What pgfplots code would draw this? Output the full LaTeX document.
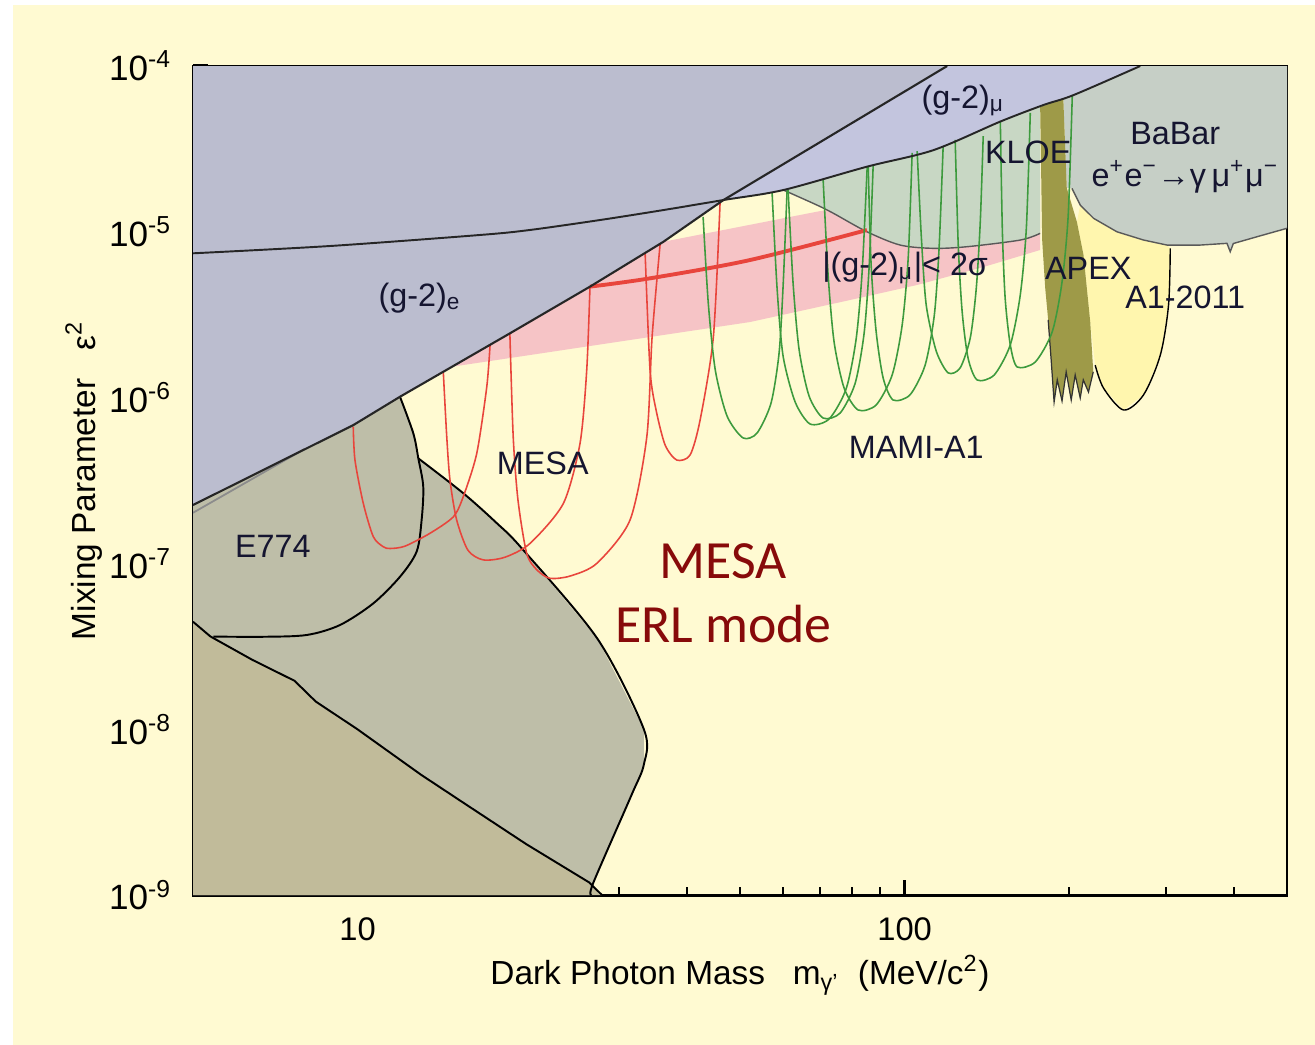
\documentclass[border=0pt]{standalone}
\usepackage{pgfplots}
\pgfplotsset{compat=1.18}
\usepackage{fontspec}
\setmainfont{Liberation Sans}
\newfontfamily\calibri{Carlito}
\definecolor{bgy}{HTML}{FFFAD2}
\definecolor{ge}{HTML}{BBBDCF}
\definecolor{gmu}{HTML}{C3C5DE}
\definecolor{kloe}{HTML}{C8D7C4}
\definecolor{babar}{HTML}{C6CFC6}
\definecolor{apex}{HTML}{9E9A48}
\definecolor{aone}{HTML}{FFF6AE}
\definecolor{esev}{HTML}{BEBEA8}
\definecolor{khaki}{HTML}{C1BB9A}
\definecolor{pinkb}{HTML}{F6C4C6}
\definecolor{mred}{HTML}{E8453C}
\definecolor{mgreen}{HTML}{3D9A3D}
\definecolor{ered}{HTML}{870A0A}
\definecolor{lab}{HTML}{151530}
\begin{document}
\begin{tikzpicture}
\fill[white] (-1.93,-1.50) rectangle (11.22,8.95);
\fill[bgy] (-1.804,-1.50) rectangle (11.22,8.90);
\begin{axis}[
 at={(0,0)}, anchor=south west, scale only axis,
 width=10.94cm, height=8.29cm,
 xmode=log, ymode=log, xmin=5, xmax=500, ymin=1e-9, ymax=1e-4,
 axis background/.style={fill=bgy},
 axis line style={line width=0.85pt},
 tick pos=left, tick align=inside,
 major tick length=0.15cm, minor tick length=0.08cm,
 major tick style={line width=0.9pt, black},
 minor tick style={line width=0.6pt, black},
 xtick={10,100}, xticklabels={10,100},
 minor xtick={6,7,8,9,20,30,40,50,60,70,80,90,200,300,400},
 ytick={1e-9,1e-8,1e-7,1e-6,1e-5,1e-4},
 yticklabels={10\textsuperscript{-9},10\textsuperscript{-8},10\textsuperscript{-7},10\textsuperscript{-6},10\textsuperscript{-5},10\textsuperscript{-4}},
 minor ytick={2e-9,3e-9,4e-9,5e-9,6e-9,7e-9,8e-9,9e-9,2e-8,3e-8,4e-8,5e-8,6e-8,7e-8,8e-8,9e-8,2e-7,3e-7,4e-7,5e-7,6e-7,7e-7,8e-7,9e-7,2e-6,3e-6,4e-6,5e-6,6e-6,7e-6,8e-6,9e-6,2e-5,3e-5,4e-5,5e-5,6e-5,7e-5,8e-5,9e-5},
 xticklabel style={font=\fontsize{9.3}{11}\selectfont, text=black, yshift=-3pt},
 yticklabel style={font=\fontsize{10}{12}\selectfont, text=black, xshift=-2.5pt},
 xlabel={Dark Photon Mass \ \ m\textsubscript{γ'}\ \ (MeV/c\textsuperscript{2})},
 ylabel={Mixing Parameter \ \ ε\textsuperscript{2}},
 label style={font=\fontsize{9.5}{11}\selectfont},
 xlabel style={at={(axis description cs:0.5,-0.0965)}, anchor=center},
 ylabel style={at={(axis description cs:-0.1,0.5)}, anchor=center},
]
% pink band |(g-2)_mu| < 2 sigma
\addplot[fill=pinkb, draw=none] coordinates {(14.88,1.536e-6) (18.98,2.44e-6) (26.59,4.67e-6) (36.23,8.71e-6) (69.1,1.322e-5) (176.9,2.294e-5) (176.9,7.77e-6) (139.2,6.13e-6) (105.4,4.78e-6) (79.5,3.88e-6) (52.17,2.857e-6) (36.19,2.385e-6) (20.66,1.807e-6)} -- cycle;
% KLOE
\addplot[fill=kloe, draw=none] coordinates {(60.02,1.787e-5) (85.3,2.47e-5) (112.9,3.11e-5) (149.5,4.62e-5) (176.9,5.71e-5) (176.9,9.79e-6) (162.7,8.92e-6) (130.0,8.13e-6) (112.9,7.95e-6) (98.13,8.32e-6) (85.3,1.001e-5) (74.1,1.293e-5) (69.1,1.451e-5)} -- cycle;
\addplot[draw=black!65, line width=0.4pt, smooth] coordinates {(60.02,1.787e-5) (69.1,1.451e-5) (74.1,1.293e-5) (85.3,1.001e-5) (98.13,8.32e-6) (112.9,7.95e-6) (130.0,8.13e-6) (162.7,8.92e-6) (176.9,9.79e-6)};
% (g-2)_mu region
\addplot[fill=gmu, draw=none] coordinates {(5,7.42e-6) (8.90,8.21e-6) (16.74,9.57e-6) (20.66,1.026e-5) (27.74,1.178e-5) (36.23,1.353e-5) (46.63,1.555e-5) (60.02,1.787e-5) (85.3,2.47e-5) (112.9,3.11e-5) (149.5,4.62e-5) (179.4,5.82e-5) (203.6,6.68e-5) (269.6,1e-4) (5,1e-4)} -- cycle;
% (g-2)_e region
\addplot[fill=ge, draw=none] coordinates {(5,2.25e-7) (9.82,6.83e-7) (11.95,1.012e-6) (18.98,2.44e-6) (26.59,4.67e-6) (36.23,8.71e-6) (46.63,1.555e-5) (119.6,1e-4) (5,1e-4)} -- cycle;
% A1-2011
\addplot[fill=aone, draw=none] coordinates {(206.5,1.146e-5) (212.3,7.25e-6) (218.4,2.86e-6) (223.0,1.57e-6) (231.0,1.14e-6) (251.3,8.42e-7) (273.4,1.04e-6) (293.4,1.81e-6) (303.7,3.62e-6) (305.9,7.95e-6) (301.7,8.32e-6) (273.4,8.92e-6) (244.4,1.0e-5) (221.5,1.206e-5) (209.4,1.451e-5)} -- cycle;
\addplot[draw=black, line width=0.4pt, smooth] coordinates {(223.0,1.57e-6) (231.0,1.14e-6) (251.3,8.42e-7) (273.4,1.04e-6) (293.4,1.81e-6) (303.7,3.62e-6) (305.9,7.95e-6)};
% BaBar
\addplot[fill=babar, draw=none] coordinates {(195.0,6.37e-5) (203.6,6.68e-5) (269.6,1e-4) (500,1e-4) (500,1.05e-5) (440.8,9.34e-6) (399,8.5e-6) (393.8,7.59e-6) (388.4,8.52e-6) (347.1,8.32e-6) (301.7,8.32e-6) (273.4,8.92e-6) (244.4,1.0e-5) (221.5,1.206e-5) (209.4,1.451e-5) (202.2,1.829e-5) (197.9,1.837e-5)} -- cycle;
\addplot[draw=black!65, line width=0.4pt] coordinates {(202.2,1.829e-5) (209.4,1.451e-5) (221.5,1.206e-5) (244.4,1.0e-5) (273.4,8.92e-6) (301.7,8.32e-6) (347.1,8.32e-6) (388.4,8.52e-6) (393.8,7.59e-6) (399,8.5e-6) (440.8,9.34e-6) (500,1.05e-5)};
% APEX
\addplot[fill=apex, draw=none] coordinates {(176.9,5.66e-5) (195.0,6.37e-5) (197.9,1.837e-5) (206.5,1.146e-5) (212.3,7.25e-6) (218.4,2.86e-6) (221.2,1.43e-6) (216.8,1.08e-6) (212.1,1.28e-6) (209.4,9.94e-7) (205.0,1.37e-6) (201.6,9.67e-7) (197.4,1.43e-6) (194.0,9.54e-7) (190.1,1.28e-6) (187.6,9.41e-7) (185.3,1.69e-6) (183.0,2.94e-6) (180.7,4.58e-6) (178.4,8.92e-6)} -- cycle;
\addplot[draw=black!80, line width=0.35pt] coordinates {(221.2,1.43e-6) (216.8,1.08e-6) (212.1,1.28e-6) (209.4,9.94e-7) (205.0,1.37e-6) (201.6,9.67e-7) (197.4,1.43e-6) (194.0,9.54e-7) (190.1,1.28e-6) (187.6,9.41e-7) (185.3,1.69e-6) (183.0,2.94e-6)};
% E774 + E141 (grey)
\addplot[fill=esev, draw=none] coordinates {(5,2.25e-7) (9.82,6.83e-7) (11.95,1.012e-6) (12.64,6.09e-7) (12.91,4.30e-7) (13.00,4.20e-7) (15.60,2.65e-7) (17.96,1.75e-7) (19.97,1.23e-7) (27.46,3.50e-8) (33.37,9.97e-9) (33.37,6.15e-9) (31.65,3.99e-9) (26.98,1.19e-9) (26.74,1e-9) (5,1e-9)} -- cycle;
% lower khaki region
\addplot[fill=khaki, draw=none] coordinates {(5,4.45e-8) (5.378,3.63e-8) (6.420,2.62e-8) (7.666,1.96e-8) (8.380,1.47e-8) (10,9.97e-9) (13.05,5.32e-9) (15.57,3.62e-9) (20.32,2.03e-9) (26.51,1.19e-9) (27.96,1e-9) (5,1e-9)} -- cycle;
% boundaries
\addplot[draw=black!45, line width=0.5pt] coordinates {(5,2.02e-7) (8.0,4.9e-7)};
\addplot[draw=black, line width=0.55pt, smooth] coordinates {(11.95,1.012e-6) (12.64,6.09e-7) (12.91,4.30e-7) (13.18,2.90e-7) (13.09,1.83e-7) (12.82,1.18e-7) (11.95,8.31e-8) (10.68,5.74e-8) (9.282,4.25e-8) (8.067,3.70e-8) (6.720,3.61e-8) (5.45,3.62e-8)};
\addplot[draw=black, line width=0.55pt, smooth] coordinates {(12.91,4.30e-7) (15.60,2.65e-7) (17.96,1.75e-7) (19.97,1.23e-7) (27.46,3.50e-8) (33.37,9.97e-9) (33.37,6.15e-9) (31.65,3.99e-9) (26.98,1.19e-9) (26.74,1e-9)};
\addplot[draw=black, line width=0.55pt] coordinates {(5,4.45e-8) (5.378,3.63e-8) (6.420,2.62e-8) (7.666,1.96e-8) (8.380,1.47e-8) (10,9.97e-9) (13.05,5.32e-9) (15.57,3.62e-9) (20.32,2.03e-9) (26.51,1.19e-9) (27.96,1e-9)};
% MESA central line
\addplot[draw=mred, line width=1.1pt, smooth] coordinates {(26.59,4.67e-6) (34.22,5.24e-6) (52.17,6.76e-6) (85.30,1.025e-5)};
% MESA reach curves
\addplot[draw=mred, line width=0.45pt, smooth, tension=0.45] coordinates {(9.816,6.68e-7) (9.887,4.20e-7) (10.24,2.30e-7) (10.68,1.45e-7) (11.14,1.26e-7) (11.46,1.23e-7) (12.20,1.27e-7) (13.56,1.52e-7) (14.96,1.91e-7) (15.60,2.53e-7) (16.51,4.61e-7) (17.22,1.16e-6) (17.46,2.08e-6)};
\addplot[draw=mred, line width=0.45pt, smooth, tension=0.45] coordinates {(14.34,1.43e-6) (14.55,5.81e-7) (14.75,3.18e-7) (15.17,1.83e-7) (15.91,1.20e-7) (16.97,1.05e-7) (18.59,1.09e-7) (20.66,1.32e-7) (23.77,2.30e-7) (25.50,5.30e-7) (26.23,1.47e-6) (26.59,4.67e-6)};
\addplot[draw=mred, line width=0.45pt, smooth, tension=0.45] coordinates {(18.98,2.44e-6) (19.25,5.81e-7) (19.64,2.41e-7) (20.37,1.15e-7) (21.28,9.12e-8) (22.47,8.13e-8) (24.45,8.39e-8) (27.36,1.00e-7) (31.48,1.83e-7) (33.78,5.81e-7) (34.54,2.33e-6) (35.73,8.48e-6)};
\addplot[draw=mred, line width=0.45pt, smooth, tension=0.45] coordinates {(33.54,7.46e-6) (34.24,1.47e-6) (35.12,8.42e-7) (36.48,5.18e-7) (38.32,4.20e-7) (40.53,4.51e-7) (42.27,7.32e-7) (44.70,2.33e-6) (45.98,1.51e-5)};
% MAMI-A1 reach curves
\addplot[draw=mgreen, line width=0.45pt, smooth, tension=0.45] coordinates {(42.81,1.23e-5) (43.75,3.72e-6) (45.06,1.467e-6) (47.35,7.74e-7) (50.66,5.71e-7) (53.74,6.12e-7) (56.99,9.28e-7) (58.95,1.86e-6) (59.95,4.71e-6) (60.97,1.787e-5)};
\addplot[draw=mgreen, line width=0.45pt, smooth, tension=0.45] coordinates {(57.23,1.74e-5) (58.46,4.52e-6) (59.95,1.78e-6) (63.07,9.41e-7) (67.18,6.93e-7) (72.77,7.43e-7) (78.17,1.13e-6) (81.53,2.26e-6) (83.61,5.72e-6) (85.41,2.46e-5)};
\addplot[draw=mgreen, line width=0.45pt, smooth, tension=0.45] coordinates {(61.23,1.787e-5) (62.52,4.91e-6) (64.14,1.94e-6) (66.89,1.02e-6) (70.96,7.53e-7) (76.22,8.07e-7) (81.19,1.22e-6) (84.32,2.45e-6) (86.13,6.22e-6) (87.58,2.49e-5)};
\addplot[draw=mgreen, line width=0.45pt, smooth, tension=0.45] coordinates {(70.96,2.05e-5) (72.46,5.49e-6) (74.32,2.16e-6) (77.52,1.14e-6) (82.22,8.42e-7) (88.70,9.03e-7) (94.88,1.37e-6) (98.96,2.74e-6) (101.5,6.95e-6) (103.2,2.99e-5)};
\addplot[draw=mgreen, line width=0.45pt, smooth, tension=0.45] coordinates {(85.77,2.49e-5) (86.84,6.31e-6) (88.70,2.49e-6) (91.36,1.31e-6) (95.27,9.67e-7) (102.3,1.04e-6) (109.0,1.57e-6) (113.3,3.15e-6) (115.6,7.99e-6) (117.6,3.29e-5)};
\addplot[draw=mgreen, line width=0.45pt, smooth, tension=0.45] coordinates {(105.4,3.07e-5) (107.3,9.18e-6) (109.5,3.62e-6) (114.2,1.91e-6) (120.1,1.41e-6) (126.3,1.51e-6) (131.8,2.29e-6) (135.2,4.58e-6) (137.5,1.16e-5) (139.2,3.78e-5)};
\addplot[draw=mgreen, line width=0.45pt, smooth, tension=0.45] coordinates {(123.7,3.58e-5) (125.3,8.32e-6) (127.4,3.28e-6) (130.6,1.73e-6) (135.7,1.277e-6) (145.8,1.37e-6) (156.0,2.08e-6) (162.7,4.16e-6) (166.9,1.05e-5) (169.7,5.21e-5)};
\addplot[draw=mgreen, line width=0.45pt, smooth, tension=0.45] coordinates {(149.6,4.59e-5) (150.9,9.97e-6) (152.7,3.93e-6) (156.0,2.08e-6) (160.6,1.53e-6) (173.3,1.64e-6) (186.1,2.49e-6) (194.0,4.98e-6) (199.1,1.26e-5) (202.5,6.59e-5)};
% (g-2) boundary lines
\addplot[draw=black!85, line width=0.6pt] coordinates {(5,2.25e-7) (9.82,6.83e-7) (11.95,1.012e-6) (18.98,2.44e-6) (26.59,4.67e-6) (36.23,8.71e-6) (46.63,1.555e-5) (119.6,1e-4)};
\addplot[draw=black!85, line width=0.55pt, smooth] coordinates {(5,7.42e-6) (8.90,8.21e-6) (16.74,9.57e-6) (20.66,1.026e-5) (27.74,1.178e-5) (36.23,1.353e-5) (46.63,1.555e-5) (60.02,1.787e-5) (85.3,2.47e-5) (112.9,3.11e-5) (149.5,4.62e-5) (179.4,5.82e-5) (203.6,6.68e-5) (269.6,1e-4)};
% labels
\begin{scope}[every node/.style={font=\fontsize{9.2}{11}\selectfont, text=lab, inner sep=0pt}]
\node at (axis cs:13.0,3.99e-6) {(g-2)\textsubscript{e}};
\node at (axis cs:127.9,6.2e-5) {(g-2)\textsubscript{μ}};
\node at (axis cs:168.3,3.03e-5) {KLOE};
\node at (axis cs:312.4,3.94e-5) {BaBar};
\node at (axis cs:325.8,2.14e-5) {e\textsuperscript{+}e\textsuperscript{−}→γ\,μ\textsuperscript{+}μ\textsuperscript{−}};
\node at (axis cs:216.6,6.05e-6) {APEX};
\node at (axis cs:325.8,4.04e-6) {A1-2011};
\node at (axis cs:100.2,6.05e-6) {|(g-2)\textsubscript{μ}|< 2σ};
\node at (axis cs:105,5.04e-7) {MAMI-A1};
\node at (axis cs:21.8,4.03e-7) {MESA};
\node at (axis cs:7.00,1.27e-7) {E774};
\end{scope}
\node[font=\calibri\fontsize{15.3}{18.3}\selectfont, text=ered, align=center] at (axis cs:46.6,6.63e-8) {MESA\\ERL mode};
\end{axis}
\end{tikzpicture}
\end{document}
